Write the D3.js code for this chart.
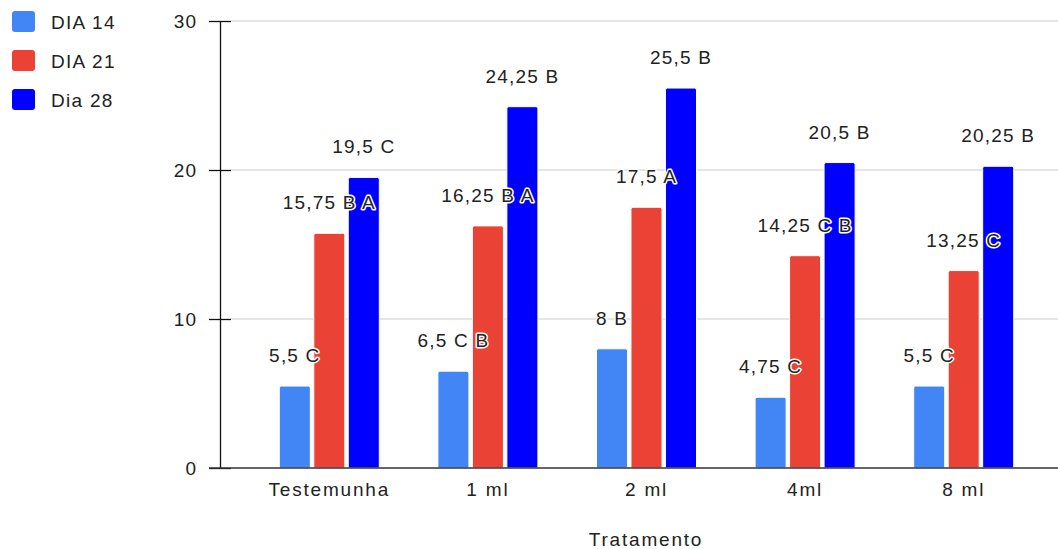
<!DOCTYPE html>
<html>
<head>
<meta charset="utf-8">
<script src="https://cdn.jsdelivr.net/npm/d3@7"></script>
<style>
  html, body { margin: 0; padding: 0; background: #fff; }
  svg { display: block; }
  text { font-family: "Liberation Sans", Arial, sans-serif; }
</style>
</head>
<body>
<svg id="chart" width="1058" height="549"></svg>
<script>
// Treatments and series
const categories = ["Testemunha", "1 ml", "2 ml", "4ml", "8 ml"];
const seriesNames = ["DIA 14", "DIA 21", "Dia 28"];
const seriesColors = ["#4285F4", "#EA4335", "#0000FF"];

const dia14 = [5.5, 6.5, 8, 4.75, 5.5];
const dia21 = [15.75, 16.25, 17.5, 14.25, 13.25];
const dia28 = [19.5, 24.25, 25.5, 20.5, 20.25];

// Significance letters attached to each value
const letters14 = ["C", "C B", "B", "C", "C"];
const letters21 = ["B A", "B A", "A", "C B", "C"];
const letters28 = ["C", "B", "B", "B", "B"];

const yTicks = [0, 10, 20, 30];
const xTitle = "Tratamento";

const seriesValues = [dia14, dia21, dia28];
const seriesLetters = [letters14, letters21, letters28];

const svg = d3.select("#chart");
const fmt = v => String(v).replace(".", ",");
const FS = 19;

const x = d3.scaleBand().domain(categories).range([250, 1043]).padding(0);
const xs = d3.scaleBand().domain(seriesNames).range([-50, 50]).paddingInner(0.1).paddingOuter(0);
const y = d3.scaleLinear().domain([0, 30]).range([468, 21]);

// Gridlines
svg.append("g")
  .selectAll("line")
  .data(yTicks.filter(t => t > 0))
  .join("line")
  .attr("x1", 231).attr("x2", 1058)
  .attr("y1", d => y(d)).attr("y2", d => y(d))
  .attr("stroke", "#cccccc").attr("stroke-width", 1);

// Y axis
const yAxis = svg.append("g")
  .attr("transform", "translate(220,0)")
  .call(d3.axisLeft(y).tickValues(yTicks).tickSize(0).tickFormat(d3.format("d")));
yAxis.select(".domain").attr("stroke", "#111").attr("stroke-width", 1.3);
yAxis.selectAll(".tick text")
  .attr("x", -23).attr("dy", "0.35em")
  .attr("font-size", FS).attr("letter-spacing", 1)
  .attr("fill", "#222")
  .style("font-family", "Liberation Sans, Arial, sans-serif");
yAxis.selectAll(".tick").append("line")
  .attr("x1", -11).attr("x2", 11)
  .attr("stroke", "#111").attr("stroke-width", 1.3);

// Bars
const groups = svg.append("g")
  .selectAll("g")
  .data(categories)
  .join("g")
  .attr("transform", d => `translate(${x(d) + x.bandwidth() / 2},0)`);

seriesNames.forEach((name, si) => {
  groups.append("path")
    .attr("fill", seriesColors[si])
    .attr("stroke", "#fff").attr("stroke-width", 1)
    .attr("d", (c, ci) => {
      const x0 = xs(name), w = xs.bandwidth();
      const top = y(seriesValues[si][ci]), bottom = y(0), r = 2;
      return `M${x0},${bottom}V${top + r}Q${x0},${top} ${x0 + r},${top}H${x0 + w - r}Q${x0 + w},${top} ${x0 + w},${top + r}V${bottom}Z`;
    });
});

// X baseline
svg.append("line")
  .attr("x1", 209).attr("x2", 1058)
  .attr("y1", y(0)).attr("y2", y(0))
  .attr("stroke", "#333").attr("stroke-width", 1.3);

// Value labels with letters
seriesNames.forEach((name, si) => {
  groups.append("text")
    .attr("x", xs(name) + xs.bandwidth() / 2)
    .attr("y", (c, ci) => y(seriesValues[si][ci]) - 24)
    .attr("text-anchor", "middle")
    .attr("font-size", FS).attr("letter-spacing", 1.2)
    .attr("fill", "#222")
    .attr("stroke", "#fff").attr("stroke-width", 3)
    .attr("stroke-linejoin", "round")
    .attr("paint-order", "stroke")
    .text((c, ci) => `${fmt(seriesValues[si][ci])} ${seriesLetters[si][ci]}`);
});

// Category labels
svg.append("g")
  .selectAll("text")
  .data(categories)
  .join("text")
  .attr("x", d => x(d) + x.bandwidth() / 2)
  .attr("y", 496)
  .attr("text-anchor", "middle")
  .attr("font-size", FS).attr("letter-spacing", 1.8)
  .attr("fill", "#222")
  .text(d => d);

// Axis title
svg.append("text")
  .attr("x", 646).attr("y", 546)
  .attr("text-anchor", "middle")
  .attr("font-size", FS).attr("letter-spacing", 1.8)
  .attr("fill", "#222")
  .text(xTitle);

// Legend
const legend = svg.append("g")
  .selectAll("g")
  .data(seriesNames)
  .join("g")
  .attr("transform", (d, i) => `translate(12,${11 + i * 39})`);
legend.append("rect")
  .attr("width", 23).attr("height", 21).attr("rx", 3)
  .attr("fill", (d, i) => seriesColors[i]);
legend.append("text")
  .attr("x", 39).attr("y", 18)
  .attr("font-size", FS).attr("letter-spacing", 1.3)
  .attr("fill", "#222")
  .text(d => d);
</script>
</body>
</html>
